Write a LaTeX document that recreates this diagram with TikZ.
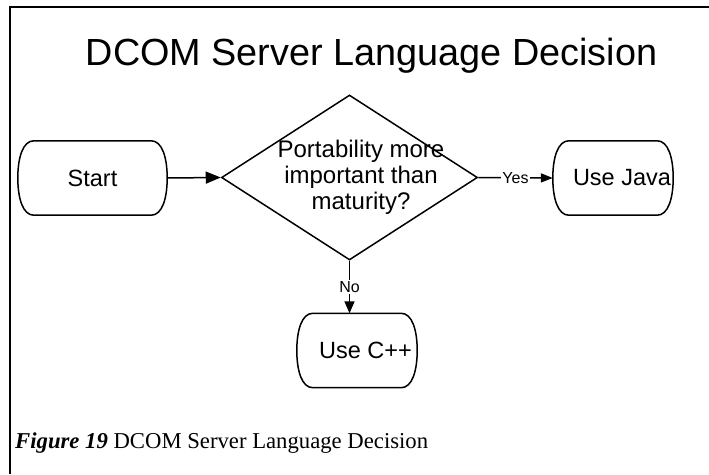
\documentclass[tikz,border=0pt]{standalone}
\usepackage{fontspec}
\setmainfont{Liberation Sans}
\newfontfamily\capfont{Liberation Serif}
\usetikzlibrary{shapes.geometric,arrows.meta}
\newcommand\termoutline[1]{%
  \draw[termline] ([xshift=16pt]#1.north west) -- ([xshift=-16pt]#1.north east)
    .. controls ([xshift=-5pt]#1.north east) and ([yshift=-17pt]#1.north east) .. (#1.east)
    .. controls ([yshift=17pt]#1.south east) and ([xshift=-5pt]#1.south east) .. ([xshift=-16pt]#1.south east)
    -- ([xshift=16pt]#1.south west)
    .. controls ([xshift=5pt]#1.south west) and ([yshift=17pt]#1.south west) .. (#1.west)
    .. controls ([yshift=-17pt]#1.north west) and ([xshift=5pt]#1.north west) .. cycle;}
\begin{document}
\begin{tikzpicture}[x=1pt,y=1pt,
  term/.style={shape=rectangle, minimum width=#1, minimum height=74pt, inner sep=0pt,
    font=\fontsize{23.5}{28}\selectfont},
  termline/.style={line width=1.5pt},
  decision/.style={shape=diamond, draw, line width=1.5pt, minimum width=256pt, minimum height=165pt, inner sep=0pt},
  qtext/.style={align=center, inner sep=0pt, font=\fontsize{24}{26}\selectfont},
  edge/.style={line width=1.5pt},
  lbl/.style={fill=white, inner sep=1.5pt, font=\fontsize{16}{18}\selectfont},
  frame/.style={line width=2pt}]
\useasboundingbox (0,0) rectangle (709,474);
\draw[frame] (709,466.5) -- (9.5,466.5) -- (9.5,0);
\node[anchor=base, inner sep=0pt, font=\fontsize{37.8}{45}\selectfont] (title) at (371.5,408) {DCOM Server Language Decision};
\node[term=149pt] (s) at (92.5,296) {Start};
\termoutline{s}
\node[decision] (d) at (349.5,296.5) {};
\node[qtext] (q) at ([xshift=11.5pt,yshift=0pt]d.center) {Portability more\\important than\\maturity?};
\node[term=120pt] (j) at (613,296) {\hspace*{18pt}Use Java};
\termoutline{j}
\node[term=120pt] (c) at (357,123.5) {\hspace*{17pt}Use C++};
\termoutline{c}
\draw[edge,-{Triangle[length=15pt,width=12pt]}] (s.east) -- (d.west);
\draw[edge,-{Triangle[length=12pt,width=9pt]}] (d.east) -- node[lbl] (yes) {Yes} (j.west);
\draw[edge,-{Triangle[length=12pt,width=10pt]}] (d.south) -- node[lbl] (no) {No} (d.south |- c.north);
\node[anchor=base west, inner sep=0pt, font=\capfont\fontsize{22.7}{27}\selectfont] (cap) at (15,26) {\textbf{\textit{Figure 19}} DCOM Server Language Decision};
\end{tikzpicture}
\end{document}
